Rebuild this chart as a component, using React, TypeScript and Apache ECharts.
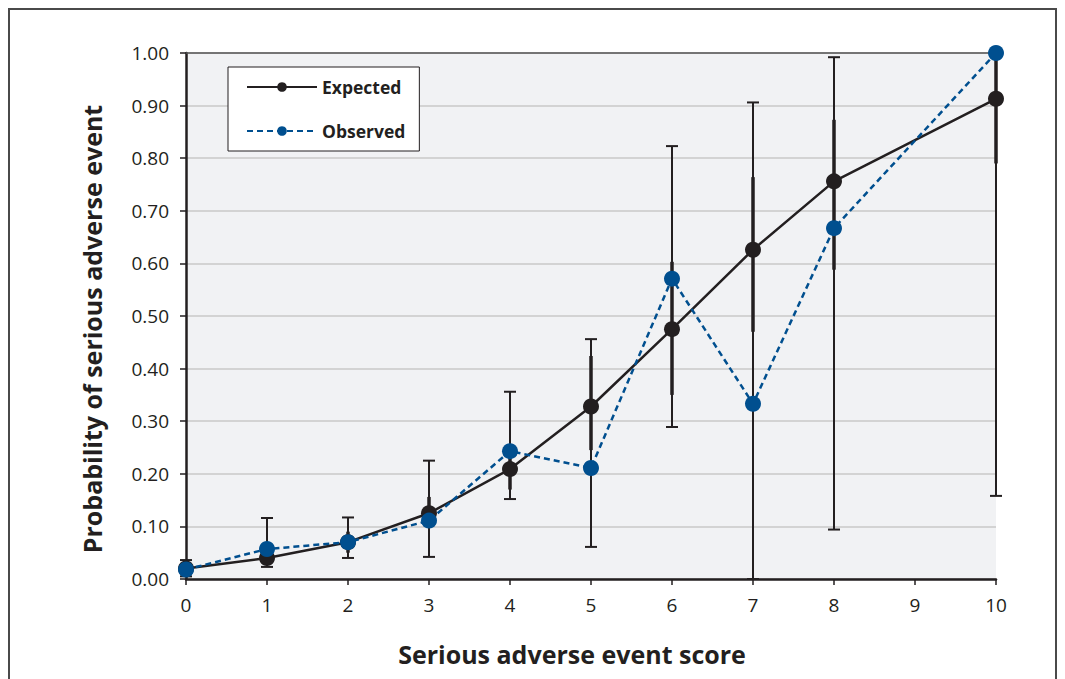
import React, { useEffect, useRef } from "react";
import * as echarts from "echarts";

const scores = [0, 1, 2, 3, 4, 5, 6, 7, 8, 10];
const expectedValues = [0.02, 0.04, 0.07, 0.125, 0.209, 0.328, 0.475, 0.626, 0.756, 0.913];
const observedValues = [0.018, 0.057, 0.07, 0.111, 0.243, 0.211, 0.571, 0.333, 0.667, 1.0];
const expectedLow = [0.012, 0.028, 0.05, 0.1, 0.17, 0.245, 0.35, 0.47, 0.588, 0.79];
const expectedHigh = [0.03, 0.055, 0.09, 0.156, 0.245, 0.424, 0.603, 0.764, 0.873, 1.0];
const observedLow = [0.005, 0.023, 0.04, 0.042, 0.152, 0.061, 0.289, 0.0, 0.094, 0.158];
const observedHigh = [0.036, 0.116, 0.117, 0.225, 0.356, 0.456, 0.823, 0.906, 0.992, 1.0];
const yTicks = ["0.00", "0.10", "0.20", "0.30", "0.40", "0.50", "0.60", "0.70", "0.80", "0.90", "1.00"];
const xTitle = "Serious adverse event score";
const yTitle = "Probability of serious adverse event";

const BLACK = "#231f20";
const BLUE = "#004f8f";
const FONT = "Open Sans";

export default function App() {
  const ref = useRef<HTMLDivElement>(null);
  useEffect(() => {
    if (!ref.current) return;
    const chart = echarts.init(ref.current, null, { renderer: "svg" });
    const expPts = scores.map((s, i) => [s, expectedValues[i]]);
    const obsPts = scores.map((s, i) => [s, observedValues[i]]);
    const expBars = scores.map((s, i) => [s, expectedLow[i], expectedHigh[i]]);
    const obsBars = scores.map((s, i) => [s, observedLow[i], observedHigh[i]]);
    chart.setOption({
      animation: false,
      graphic: [
        {
          type: "rect",
          shape: { x: 1, y: 1, width: 1047, height: 720 },
          style: { fill: "none", stroke: "#4a4a4a", lineWidth: 2 },
          z: 100,
        },
        {
          type: "text",
          x: 564,
          y: 646,
          style: {
            text: xTitle,
            fontFamily: FONT,
            fontWeight: "bold",
            fontSize: 25,
            fill: BLACK,
            align: "center",
            verticalAlign: "middle",
          },
        },
        {
          type: "text",
          x: 84,
          y: 321,
          rotation: Math.PI / 2,
          style: {
            text: yTitle,
            fontFamily: FONT,
            fontWeight: "bold",
            fontSize: 25,
            fill: BLACK,
            align: "center",
            verticalAlign: "middle",
          },
        },
      ],
      grid: {
        left: 178,
        right: 61,
        top: 45,
        bottom: 100,
        show: true,
        backgroundColor: "#f1f2f4",
        borderWidth: 0,
      },
      legend: {
        left: 220,
        top: 59,
        orient: "vertical",
        backgroundColor: "#ffffff",
        borderColor: BLACK,
        borderWidth: 1,
        padding: [11, 14, 11, 18],
        itemWidth: 70,
        itemHeight: 12,
        itemGap: 26,
        textStyle: { fontFamily: FONT, fontWeight: "bold", fontSize: 17.5, color: BLACK },
        data: ["Expected", "Observed"],
      },
      xAxis: [
        {
          type: "value",
          min: 0,
          max: 10,
          interval: 1,
          axisLine: { show: true, lineStyle: { color: BLACK, width: 2.5 } },
          axisTick: { show: true, length: 6, lineStyle: { color: BLACK, width: 1.5 } },
          axisLabel: { fontFamily: FONT, fontSize: 19, color: BLACK, margin: 16 },
          splitLine: { show: false },
        },
        {
          type: "value",
          position: "top",
          min: 0,
          max: 10,
          interval: 1,
          axisLine: { show: true, onZero: false, lineStyle: { color: "#555555", width: 1.5 } },
          axisTick: { show: false },
          axisLabel: { show: false },
          splitLine: { show: false },
        },
      ],
      yAxis: {
        type: "value",
        min: 0,
        max: 1,
        interval: 0.1,
        axisLine: { show: true, lineStyle: { color: BLACK, width: 2.5 } },
        axisTick: { show: true, length: 6, lineStyle: { color: BLACK, width: 1.5 } },
        axisLabel: {
          fontFamily: FONT,
          fontSize: 19,
          color: BLACK,
          margin: 17,
          formatter: (v: number) => yTicks[Math.round(v * 10)],
        },
        splitLine: { show: true, lineStyle: { color: "#c8c8c8", width: 1.5 } },
      },
      series: [
        {
          type: "custom",
          name: "expErr",
          z: 1,
          data: expBars,
          renderItem: (params: any, api: any) => {
            const x = api.value(0);
            const lo = api.coord([x, api.value(1)]);
            const hi = api.coord([x, api.value(2)]);
            return {
              type: "line",
              shape: { x1: lo[0], y1: lo[1], x2: hi[0], y2: hi[1] },
              style: { stroke: BLACK, lineWidth: 3.5 },
            };
          },
        },
        {
          type: "custom",
          name: "obsErr",
          z: 1,
          data: obsBars,
          renderItem: (params: any, api: any) => {
            const x = api.value(0);
            const lo = api.coord([x, api.value(1)]);
            const hi = api.coord([x, api.value(2)]);
            const c = 6;
            return {
              type: "group",
              children: [
                {
                  type: "line",
                  shape: { x1: lo[0], y1: lo[1], x2: hi[0], y2: hi[1] },
                  style: { stroke: BLACK, lineWidth: 2 },
                },
                {
                  type: "line",
                  shape: { x1: lo[0] - c, y1: lo[1], x2: lo[0] + c, y2: lo[1] },
                  style: { stroke: BLACK, lineWidth: 2 },
                },
                {
                  type: "line",
                  shape: { x1: hi[0] - c, y1: hi[1], x2: hi[0] + c, y2: hi[1] },
                  style: { stroke: BLACK, lineWidth: 2 },
                },
              ],
            };
          },
        },
        {
          type: "line",
          name: "Expected",
          z: 3,
          data: expPts,
          symbol: "circle",
          symbolSize: 16,
          itemStyle: { color: BLACK },
          lineStyle: { color: BLACK, width: 2.5 },
        },
        {
          type: "line",
          name: "Observed",
          z: 4,
          data: obsPts,
          symbol: "circle",
          symbolSize: 16,
          itemStyle: { color: BLUE },
          lineStyle: { color: BLUE, width: 2.5, type: [6, 4] },
        },
      ],
    });
    return () => chart.dispose();
  }, []);
  return <div ref={ref} style={{ width: 1049, height: 671 }} />;
}
